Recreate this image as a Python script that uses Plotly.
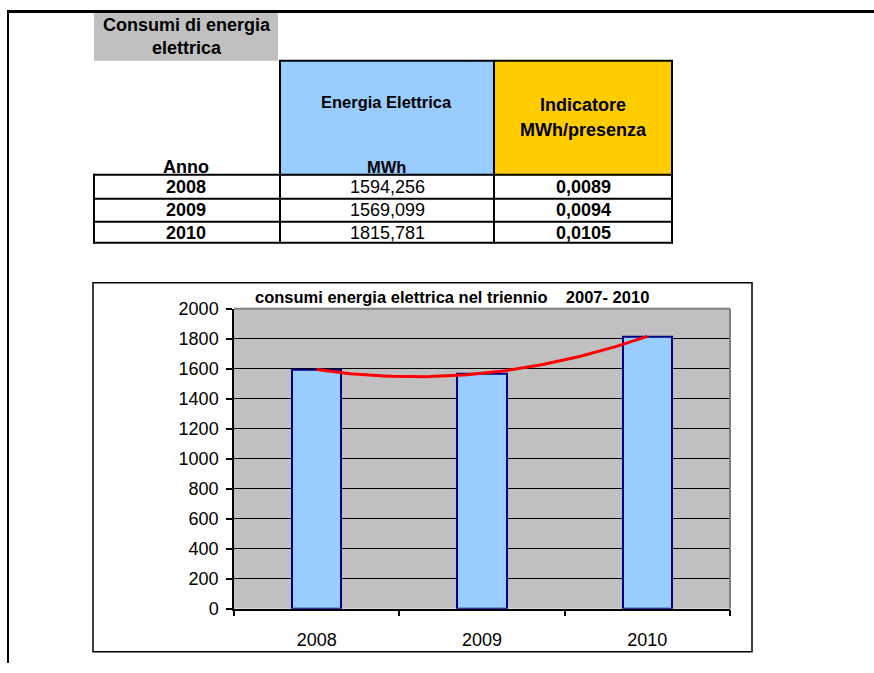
import numpy as np
import plotly.graph_objects as go

# ---- data ----
anni = ["2008", "2009", "2010"]
consumi_mwh = [1594.256, 1569.099, 1815.781]
indicatore = [0.0089, 0.0094, 0.0105]
y_ticks = [0, 200, 400, 600, 800, 1000, 1200, 1400, 1600, 1800, 2000]

W, H = 874, 673
FONT = "Liberation Sans, Arial, sans-serif"

# observed vertical mapping of the capture: shown_y = 0.9706 * page_y + 9.15
SY, OY = 0.9706, 9.15


def px(x):
    return x / W


def py(y):
    yp = max((y - OY) / SY, 0.0)
    return 1 - yp / H


xs = np.arange(len(anni))
coef = np.polyfit(xs, consumi_mwh, 2)
xt = np.linspace(0, len(anni) - 1, 80)
yt = np.polyval(coef, xt)

fig = go.Figure()
fig.add_trace(go.Bar(
    x=xs, y=consumi_mwh, width=0.3,
    marker=dict(color="#99CCFF", line=dict(color="#000080", width=2)),
    showlegend=False, hoverinfo="y",
))
fig.add_trace(go.Scatter(
    x=xt, y=yt, mode="lines", line=dict(color="#FF0000", width=3),
    showlegend=False, hoverinfo="skip",
))

shapes = []
annotations = []


def line(x0, y0, x1, y1, w=2, c="black"):
    shapes.append(dict(type="line", xref="paper", yref="paper",
                       x0=px(x0), y0=py(y0), x1=px(x1), y1=py(y1),
                       line=dict(color=c, width=w)))


def rect(x0, y0, x1, y1, fill, lw=0, lc="black"):
    shapes.append(dict(type="rect", xref="paper", yref="paper", layer="below",
                       x0=px(x0), y0=py(y0), x1=px(x1), y1=py(y1),
                       fillcolor=fill, line=dict(color=lc, width=lw)))


def text(x, y, t, size=18, bold=True, color="black"):
    annotations.append(dict(xref="paper", yref="paper", x=px(x), y=py(y),
                            text=f"<b>{t}</b>" if bold else t, showarrow=False,
                            xanchor="center", yanchor="middle",
                            font=dict(family=FONT, size=size, color=color)))


# page frame
shapes.append(dict(type="line", xref="paper", yref="paper",
                   x0=px(7), y0=1 - 1.5 / H, x1=1, y1=1 - 1.5 / H,
                   line=dict(color="black", width=3)))
shapes.append(dict(type="line", xref="paper", yref="paper",
                   x0=px(8), y0=1, x1=px(8), y1=0,
                   line=dict(color="black", width=2)))

# table header cells
rect(94, 7, 278, 60, "#C0C0C0")
rect(280, 60, 494, 175, "#99CCFF")
rect(494, 60, 672, 175, "#FFCC00")
# header borders
line(279, 60, 673, 60)
line(280, 60, 280, 175)
line(494, 60, 494, 175)
line(672, 60, 672, 175)
# data rows borders
for yy in [174, 198, 221, 242]:
    line(93, yy, 673, yy)
for xx in [94, 280, 494, 672]:
    line(xx, 173, xx, 243)

# header texts
text(187, 24, "Consumi di energia")
text(187, 47, "elettrica")
text(186, 166, "Anno")
text(386, 101, "Energia Elettrica", size=16.5)
text(386, 166, "MWh", size=16.5)
text(583, 104, "Indicatore")
text(583, 129, "MWh/presenza")

row_y = [186, 209.5, 232]
for i, a in enumerate(anni):
    text(186, row_y[i], a)
    text(387, row_y[i], f"{consumi_mwh[i]:.3f}".replace(".", ","), bold=False)
    text(583, row_y[i], f"{indicatore[i]:.4f}".replace(".", ","))

# chart box
shapes.append(dict(type="rect", xref="paper", yref="paper",
                   x0=px(93), y0=py(282), x1=px(752), y1=py(651),
                   fillcolor="rgba(0,0,0,0)", line=dict(color="black", width=1.5)))
# plot-area border (top and right, grey)
line(234, 308, 730, 308, w=2, c="#808080")
line(730, 308, 730, 608, w=2, c="#808080")

# chart title
text(452, 296, "consumi energia elettrica nel triennio\u00a0\u00a0\u00a0\u00a02007- 2010", size=16.5)

fig.update_layout(
    width=W, height=H,
    margin=dict(l=0, r=0, t=0, b=0),
    paper_bgcolor="white",
    plot_bgcolor="#C0C0C0",
    shapes=shapes,
    annotations=annotations,
    xaxis=dict(
        domain=[px(234), px(730)],
        range=[-0.5, len(anni) - 0.5],
        tickvals=list(xs), ticktext=anni,
        ticks="outside", ticklen=14, tickcolor="rgba(0,0,0,0)",
        showline=True, linecolor="black", linewidth=1.5,
        showgrid=False, zeroline=False,
        tickfont=dict(family=FONT, size=18, color="black"),
        minor=dict(tickvals=[-0.5, 0.5, 1.5, 2.5], ticks="outside",
                   ticklen=6, tickcolor="black", tickwidth=1.5, showgrid=False),
        fixedrange=True,
    ),
    yaxis=dict(
        domain=[py(608), py(308)],
        range=[0, 2000],
        tickvals=y_ticks,
        ticks="outside", ticklen=6, tickcolor="black", tickwidth=1.5,
        ticklabelstandoff=4,
        showline=True, linecolor="black", linewidth=1.5,
        showgrid=True, gridcolor="black", gridwidth=1,
        zeroline=False,
        tickfont=dict(family=FONT, size=18, color="black"),
        fixedrange=True,
    ),
    bargap=0,
)

fig.write_html(
    "out.html",
    config={"displayModeBar": False},
    post_script=(
        "document.body.style.margin='0';"
        "document.body.style.overflow='hidden';"
        "var gd=document.getElementById('{plot_id}');"
        "gd.style.position='fixed';gd.style.left='0px';gd.style.top='0px';"
    ),
)
